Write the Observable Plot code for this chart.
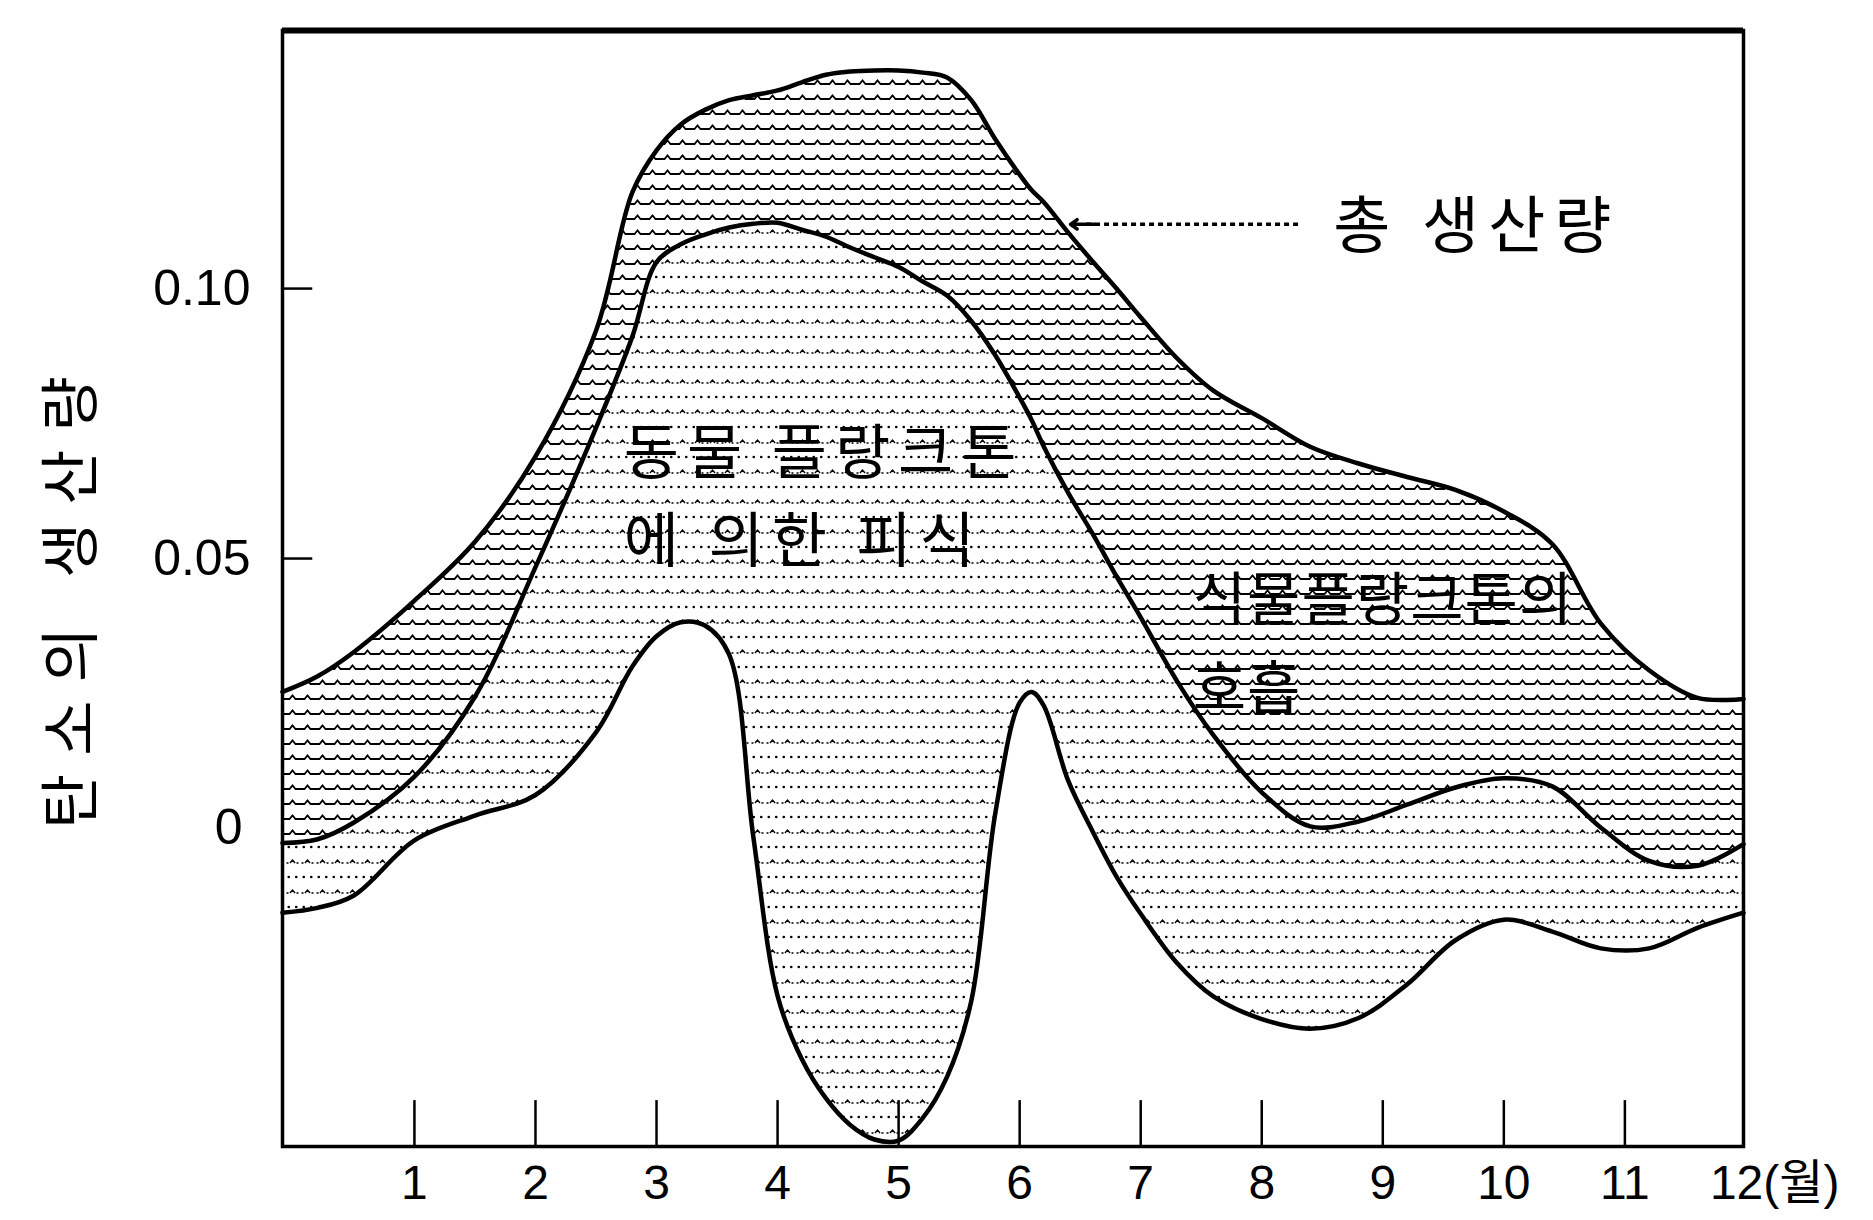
<!DOCTYPE html>
<html>
<head>
<meta charset="utf-8">
<script src="https://cdn.jsdelivr.net/npm/d3@7"></script>
<script src="https://cdn.jsdelivr.net/npm/@observablehq/plot@0.6"></script>
<style>
  html, body { margin: 0; padding: 0; background: #fff; }
  #chart svg { display: block; }
</style>
</head>
<body>
<div id="chart"></div>
<script>
// x positions (months) at which the three curves were read
const months = [-0.09, 0.2, 0.5, 1.0, 1.5, 2.0, 2.5, 2.8, 3.0, 3.2, 3.4, 3.6, 3.8, 4.0, 4.2, 4.4, 4.6, 4.8, 5.0, 5.2, 5.4, 5.6, 5.8, 6.0, 6.1, 6.2, 6.4, 6.6, 6.8, 7.0, 7.3, 7.6, 8.0, 8.4, 8.8, 9.2, 9.6, 10.0, 10.4, 10.8, 11.2, 11.6, 11.98];

// 총 생산량 (upper curve)
const totalProduction = [0.0253, 0.0282, 0.0327, 0.0422, 0.0531, 0.0689, 0.0922, 0.1178, 0.1256, 0.1304, 0.1331, 0.1349, 0.1358, 0.1367, 0.1382, 0.1396, 0.1402, 0.1404, 0.1404, 0.1400, 0.1391, 0.1349, 0.1276, 0.1211, 0.1182, 0.1160, 0.1104, 0.1051, 0.1000, 0.0947, 0.0871, 0.0811, 0.0760, 0.0707, 0.0676, 0.0651, 0.0627, 0.0587, 0.0527, 0.0380, 0.0293, 0.0242, 0.0240];

// middle curve (total minus phytoplankton respiration)
const afterRespiration = [-0.0027, -0.0020, 0.0011, 0.0096, 0.0244, 0.0484, 0.0742, 0.0911, 0.1049, 0.1082, 0.1100, 0.1113, 0.1120, 0.1122, 0.1109, 0.1096, 0.1076, 0.1058, 0.1040, 0.1013, 0.0987, 0.0940, 0.0876, 0.0798, 0.0756, 0.0707, 0.0622, 0.0547, 0.0467, 0.0391, 0.0273, 0.0173, 0.0067, 0.0004, 0.0013, 0.0044, 0.0076, 0.0093, 0.0078, 0.0002, -0.0060, -0.0069, -0.0029];

// lower curve (after grazing by zooplankton)
const afterGrazing = [-0.0156, -0.0147, -0.0124, -0.0022, 0.0024, 0.0062, 0.0178, 0.0300, 0.0356, 0.0382, 0.0376, 0.0322, -0.0016, -0.0310, -0.0427, -0.0500, -0.0549, -0.0576, -0.0578, -0.0536, -0.0460, -0.0320, 0.0030, 0.0233, 0.0253, 0.0227, 0.0089, -0.0004, -0.0089, -0.0158, -0.0249, -0.0311, -0.0353, -0.0371, -0.0351, -0.0289, -0.0207, -0.0169, -0.0191, -0.0222, -0.0222, -0.0184, -0.0156];

const xTicks = [1, 2, 3, 4, 5, 6, 7, 8, 9, 10, 11];
const xTickLabels = ["1", "2", "3", "4", "5", "6", "7", "8", "9", "10", "11"];
const xLastTick = [12];
const xLastLabel = ["12(월)"];
const yTicks = [0.05, 0.10];
const yTickLabels = ["0.05", "0.10"];
const yZero = [0];
const yZeroLabel = ["0"];
const yTickMarks = [0.05, 0.10];
const yTitle = ["탄소의 생산량"];

const regionLabels = [
  {text: "동물 플랑크톤\n에 의한 피식", month: 2.73, value: 0.0628, key: "grazing"},
  {text: "식물플랑크톤의\n호흡", month: 7.43, value: 0.0357, key: "resp"}
];
const totalLabel = [{text: "총 생산량", month: 8.59, value: 0.1111}];
const totalArrow = [{from: 8.30, to: 6.42, value: 0.1119}];

const xDomain = [-0.09, 11.98];
const yDomain = [-0.0589, 0.1478];

const data = months.map((m, i) => ({
  month: m,
  total: totalProduction[i],
  resp: afterRespiration[i],
  grazed: afterGrazing[i]
}));

const curve = "catmull-rom";
const korean = "Noto Sans CJK KR";
const latin = "Liberation Sans, Noto Sans CJK KR";

const svg = Plot.plot({
  width: 1873,
  height: 1220,
  marginLeft: 282,
  marginRight: 130,
  marginTop: 30,
  marginBottom: 74,
  style: {background: "white", color: "black", fontFamily: latin},
  x: {domain: xDomain, axis: null},
  y: {domain: yDomain, axis: null},
  marks: [
    Plot.areaY(data, {x: "month", y1: "resp", y2: "total", fill: "url(#wavy)", curve}),
    Plot.areaY(data, {x: "month", y1: "grazed", y2: "resp", fill: "url(#dots)", curve}),
    Plot.line(data, {x: "month", y: "total", stroke: "black", strokeWidth: 4.5, curve}),
    Plot.line(data, {x: "month", y: "resp", stroke: "black", strokeWidth: 4.5, curve}),
    Plot.line(data, {x: "month", y: "grazed", stroke: "black", strokeWidth: 4.5, curve}),
    // inward tick marks
    Plot.ruleX(xTicks, {x: d => d, y1: yDomain[0], y2: yDomain[0] + 0.0085, stroke: "black", strokeWidth: 2.5}),
    Plot.ruleY(yTickMarks, {y: d => d, x1: xDomain[0], x2: xDomain[0] + 0.25, stroke: "black", strokeWidth: 2.5}),
    // frame
    Plot.frame({stroke: "black", strokeWidth: 3.5}),
    Plot.ruleY([yDomain[1]], {stroke: "black", strokeWidth: 6}),
    // tick labels
    Plot.text(xTicks, {x: d => d, frameAnchor: "bottom", dy: 37, text: (d, i) => xTickLabels[i], fontSize: 48, fontFamily: latin, lineAnchor: "middle", fill: "black"}),
    Plot.text(xLastTick, {x: d => d, frameAnchor: "bottom", dy: 37, dx: -36, text: (d, i) => xLastLabel[i], textAnchor: "start", fontSize: 48, fontFamily: latin, lineAnchor: "middle", fill: "black"}),
    Plot.text(yTicks, {y: d => d, frameAnchor: "left", dx: -32, text: (d, i) => yTickLabels[i], textAnchor: "end", fontSize: 50, fontFamily: latin, lineAnchor: "middle", fill: "black"}),
    Plot.text(yZero, {y: d => d, frameAnchor: "left", dx: -40, text: (d, i) => yZeroLabel[i], textAnchor: "end", fontSize: 50, fontFamily: latin, lineAnchor: "middle", fill: "black"}),
    // y title
    Plot.text(yTitle, {y: 0.0435, frameAnchor: "left", dx: -210, text: d => d, rotate: -90, fontSize: 60, fontFamily: korean, lineAnchor: "middle", textAnchor: "middle", fill: "black"}),
    // region labels
    Plot.text(regionLabels.filter(d => d.key === "grazing"), {x: "month", y: "value", text: "text", textAnchor: "start", lineAnchor: "middle", lineHeight: 1.47, fontSize: 60, fontFamily: korean, fill: "black"}),
    Plot.text(regionLabels.filter(d => d.key === "resp"), {x: "month", y: "value", text: "text", textAnchor: "start", lineAnchor: "middle", lineHeight: 1.55, fontSize: 58, fontFamily: korean, fill: "black"}),
    Plot.text(totalLabel, {x: "month", y: "value", text: "text", textAnchor: "start", lineAnchor: "middle", fontSize: 62, fontFamily: korean, fill: "black"}),
    // arrow to total production curve
    Plot.link(totalArrow, {x1: "from", x2: d => d.to + 0.1, y1: "value", y2: "value", stroke: "black", strokeWidth: 3.5, strokeDasharray: "5,4"}),
    Plot.arrow(totalArrow, {x1: d => d.to + 0.2, x2: "to", y1: "value", y2: "value", stroke: "black", strokeWidth: 3.5, headLength: 18, headAngle: 70})
  ]
});

const ns = "http://www.w3.org/2000/svg";
const defs = document.createElementNS(ns, "defs");
defs.innerHTML = `
  <pattern id="wavy" patternUnits="userSpaceOnUse" width="15" height="15">
    <path d="M0 9 H4.5 L7.5 5.5 L10.5 9 H15" fill="none" stroke="#000" stroke-width="1.8"/>
  </pattern>
  <pattern id="dots" patternUnits="userSpaceOnUse" width="15" height="30">
    <circle cx="3.75" cy="7" r="1.3" fill="#000"/>
    <circle cx="11.25" cy="7" r="1.3" fill="#000"/>
    <path d="M1.5 23 H3.5 M5 23 L7.5 20 L10 23 M11.5 23 H13.5" fill="none" stroke="#000" stroke-width="1.4"/>
  </pattern>`;
svg.insertBefore(defs, svg.firstChild);

// letter spacing for the Korean labels, matched by their text
const spacingByText = {
  "탄소의 생산량": "18px",
  "동물 플랑크톤": "8px",
  "에 의한 피식": "8px",
  "식물플랑크톤의": "1px",
  "호흡": "1px",
  "총 생산량": "9px"
};
svg.querySelectorAll("text, tspan").forEach(el => {
  const t = el.textContent.trim();
  if (spacingByText[t] !== undefined) {
    el.setAttribute("letter-spacing", spacingByText[t]);
    el.style.letterSpacing = spacingByText[t];
  }
});

document.getElementById("chart").appendChild(svg);
</script>
</body>
</html>
